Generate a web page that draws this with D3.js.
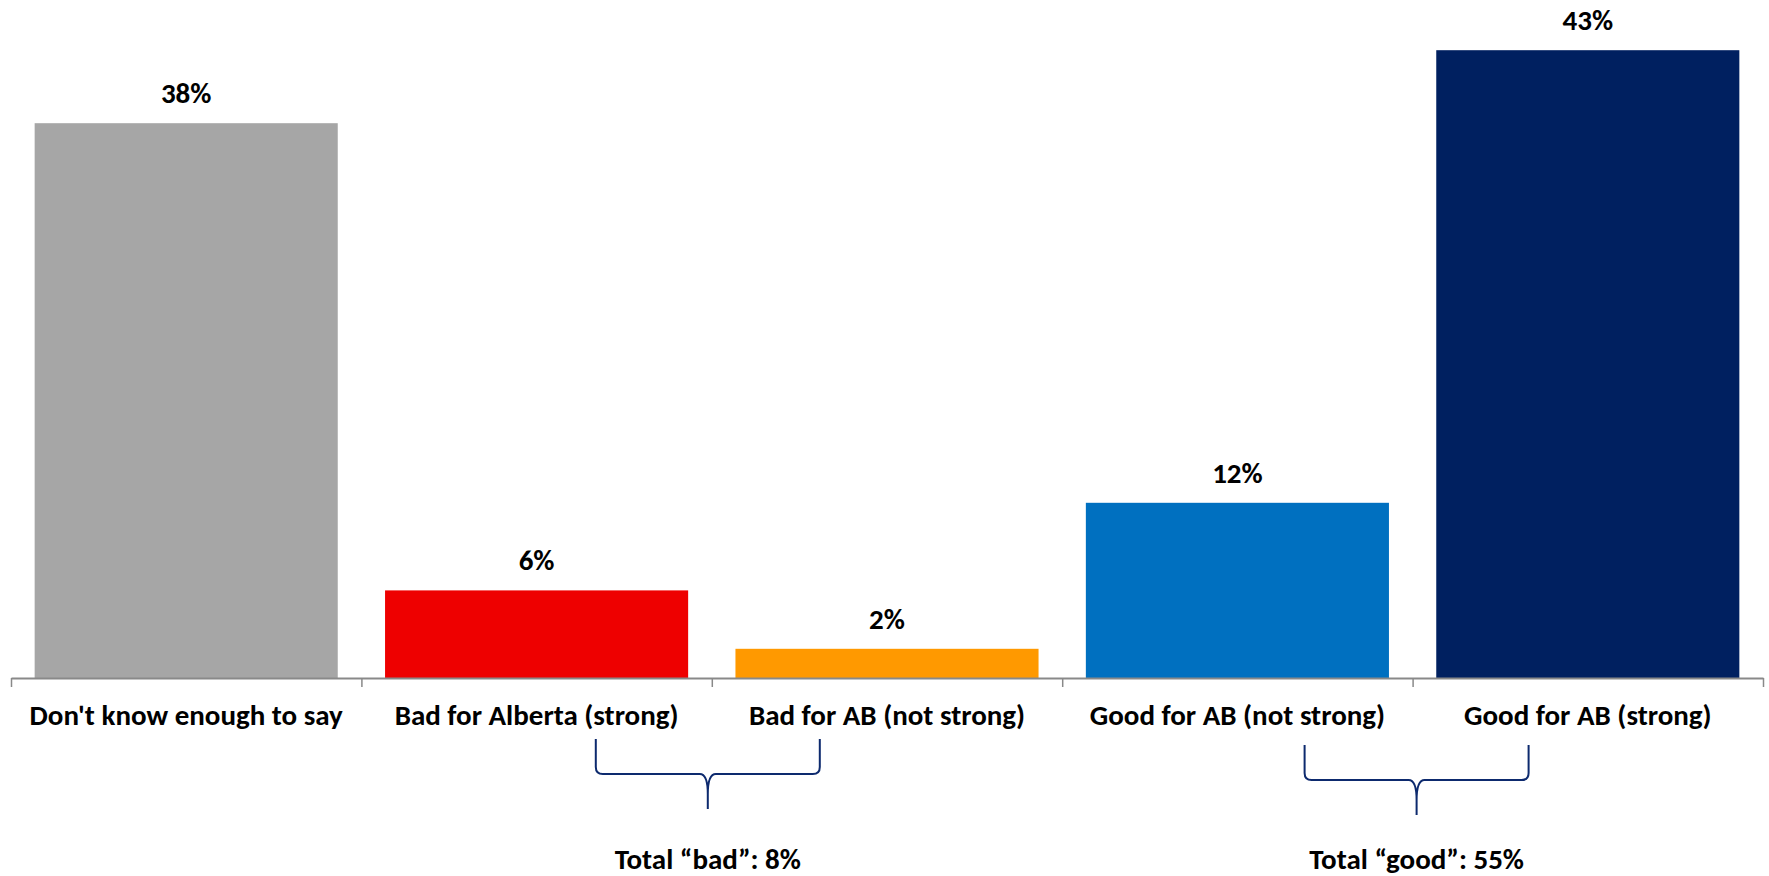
<!DOCTYPE html>
<html>
<head>
<meta charset="utf-8">
<script src="https://cdn.jsdelivr.net/npm/d3@7"></script>
<style>
  html, body { margin: 0; padding: 0; background: #ffffff; }
  svg { display: block; }
  text { font-family: Carlito, Lato, "Open Sans", sans-serif; font-weight: 700; fill: #000; }
</style>
</head>
<body>
<svg id="chart" width="1769" height="876"></svg>
<script>
// ---- data ----
const categories = ["Don't know enough to say", "Bad for Alberta (strong)", "Bad for AB (not strong)", "Good for AB (not strong)", "Good for AB (strong)"];
const values = [38, 6, 2, 12, 43];
const colors = ["#A6A6A6", "#EE0000", "#FF9900", "#0070C0", "#002060"];
const groupLabels = ["Total \u201cbad\u201d: 8%", "Total \u201cgood\u201d: 55%"];
const groupStart = [1, 3]; // index of first category in each group (bracket spans to the next)

// ---- layout ----
const W = 1769, H = 876;
const axisY = 678, left = 11, right = 1763;
const FS = "29px";
const svg = d3.select("#chart");

const x = d3.scaleBand().domain(categories).range([left, right]).paddingInner(0.135).paddingOuter(0.0675);
const y = d3.scaleLinear().domain([0, 45]).range([axisY, axisY - 45 * 14.6]);
const tickScale = d3.scaleLinear().domain([0, categories.length]).range([left, right]);

// bars
svg.append("g").selectAll("rect").data(categories).join("rect")
  .attr("x", d => x(d))
  .attr("y", (d, i) => y(values[i]))
  .attr("width", x.bandwidth())
  .attr("height", (d, i) => y(0) - y(values[i]))
  .attr("fill", (d, i) => colors[i]);

// value labels
svg.append("g").selectAll("text").data(categories).join("text")
  .attr("x", d => x(d) + x.bandwidth() / 2)
  .attr("y", (d, i) => y(values[i]) - 20)
  .attr("text-anchor", "middle")
  .style("font-size", FS)
  .text((d, i) => values[i] + "%");

// axis ticks between categories
const tickAxis = d3.axisBottom(tickScale).tickValues(d3.range(categories.length + 1))
  .tickSize(9).tickSizeOuter(0).tickFormat("");
const ga = svg.append("g").attr("transform", `translate(0,${axisY})`).call(tickAxis);
ga.select(".domain").attr("stroke", "#898989").attr("stroke-width", 2);
ga.selectAll(".tick line").attr("stroke", "#898989").attr("stroke-width", 1.5);

// category labels
const catAxis = d3.axisBottom(x).tickSize(0).tickPadding(0);
const gc = svg.append("g").attr("transform", `translate(0,${axisY})`).call(catAxis);
gc.select(".domain").remove();
gc.selectAll(".tick text")
  .attr("y", 47).attr("dy", null)
  .attr("fill", "#000")
  .style("font-family", "Carlito, Lato, 'Open Sans', sans-serif")
  .style("font-weight", 700)
  .style("font-size", FS);

// brackets
const bTop = [739, 745], bMid = [774, 780], bTip = [809, 815];
const halfW = 112, r = 7, cusp = 8;
groupStart.forEach((gi, k) => {
  const cx = tickScale(gi + 1) - 4 * (k === 0 ? 1 : -1);
  const x0 = cx - halfW, x1 = cx + halfW;
  const t = bTop[k], m = bMid[k], tip = bTip[k];
  const p = d3.path();
  p.moveTo(x0, t);
  p.lineTo(x0, m - r);
  p.quadraticCurveTo(x0, m, x0 + r, m);
  p.lineTo(cx - cusp, m);
  p.quadraticCurveTo(cx, m, cx, m + 20);
  p.lineTo(cx, tip);
  p.moveTo(x1, t);
  p.lineTo(x1, m - r);
  p.quadraticCurveTo(x1, m, x1 - r, m);
  p.lineTo(cx + cusp, m);
  p.quadraticCurveTo(cx, m, cx, m + 20);
  svg.append("path").attr("d", p.toString()).attr("fill", "none")
    .attr("stroke", "#0D2A6E").attr("stroke-width", 2);
  svg.append("text").attr("x", cx).attr("y", 869).attr("text-anchor", "middle")
    .style("font-size", FS).text(groupLabels[k]);
});
</script>
</body>
</html>
